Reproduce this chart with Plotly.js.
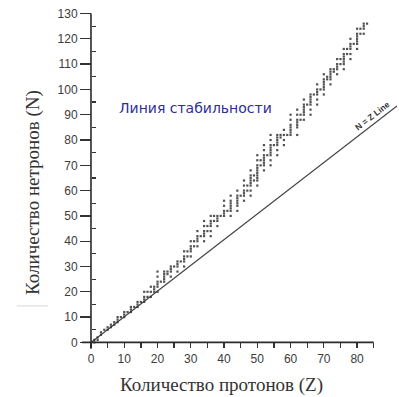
<!DOCTYPE html>
<html><head><meta charset="utf-8">
<script src="https://cdn.plot.ly/plotly-3.0.1.min.js"></script>
<style>html,body{margin:0;padding:0;background:#fff}#chart{width:399px;height:397px}</style>
</head><body><div id="chart"></div>
<script>
// Stable nuclides: proton number Z and the neutron numbers N of its stable isotopes
const elementZ = [1,2,3,4,5,6,7,8,9,10,11,12,13,14,15,16,17,18,19,20,21,22,23,24,25,26,27,28,29,30,
  31,32,33,34,35,36,37,38,39,40,41,42,44,45,46,47,48,49,50,51,52,53,54,55,56,57,58,59,60,
  62,63,64,65,66,67,68,69,70,71,72,73,74,75,76,77,78,79,80,81,82,83];
const stableN = [[0,1],[1,2],[3,4],[5],[5,6],[6,7],[7,8],[8,9,10],[10],[10,11,12],[12],[12,13,14],[14],
  [14,15,16],[16],[16,17,18,20],[18,20],[18,20,22],[20,21,22],[20,22,23,24,26,28],[24],[24,25,26,27,28],
  [27,28],[26,28,29,30],[30],[28,30,31,32],[32],[30,32,33,34,36],[34,36],[34,36,37,38,40],[38,40],
  [38,40,41,42,44],[42],[40,42,43,44,46,48],[44,46],[42,44,46,47,48,50],[48,50],[46,48,49,50],[50],
  [50,51,52,54,56],[52],[50,52,53,54,55,56,58],[52,54,55,56,57,58,60],[58],[56,58,59,60,62,64],[60,62],
  [58,60,62,63,64,65,66,68],[64,66],[62,64,65,66,67,68,69,70,72,74],[70,72],[68,70,71,72,73,74,76,78],
  [74],[70,72,74,75,76,77,78,80,82],[78],[74,76,78,79,80,81,82],[81,82],[78,80,82,84],[82],
  [82,83,84,85,86,88,90],[82,85,86,87,88,90,92],[88,90],[88,90,91,92,93,94,96],[94],
  [90,92,94,95,96,97,98],[98],[94,96,98,99,100,102],[100],[98,100,101,102,103,104,106],[104,105],
  [102,104,105,106,107,108],[107,108],[106,108,109,110,112],[110,112],[108,110,111,112,113,114,116],
  [114,116],[112,114,116,117,118,120],[118],[116,118,119,120,121,122,124],[122,124],[122,124,125,126],[126]];
const lineZ = [0, 92];
const lineN = [0, 93.5];
const xTickVals = [0,5,10,15,20,25,30,35,40,45,50,55,60,65,70,75,80,85];
const xTickText = ['0','','10','','20','','30','','40','','50','','60','','70','','80',''];
const yTickVals = [0,10,20,30,40,50,60,70,80,90,100,110,120,130];
const yMinorVals = [5,15,25,35,45,55,65,75,85,95,105,115,125];

const pz = [], pn = [];
elementZ.forEach((z, i) => stableN[i].forEach(n => { pz.push(z); pn.push(n); }));

const xr = [-3, 92], yr = [-3, 131];
const data = [
  {x: lineZ, y: lineN, type: 'scatter', mode: 'lines', line: {color: '#444', width: 1.2}, hoverinfo: 'skip'},
  {x: pz, y: pn, type: 'scatter', mode: 'markers', cliponaxis: false,
   marker: {symbol: 'square', size: 2.2, color: '#333', opacity: 0.85, line: {width: 0}}}
];
const tickFont = {family: 'Liberation Sans, Arial, sans-serif', size: 12, color: '#3c3c3c'};
const layout = {
  width: 399, height: 397,
  margin: {l: 81, r: 2, t: 11, b: 47},
  paper_bgcolor: '#fff', plot_bgcolor: '#fff',
  showlegend: false,
  xaxis: {range: xr, anchor: 'free', position: (0 - yr[0]) / (yr[1] - yr[0]),
    showgrid: false, zeroline: false, showline: false,
    tickmode: 'array', tickvals: xTickVals, ticktext: xTickText,
    ticks: 'outside', ticklen: 5, tickwidth: 1.3, tickcolor: '#333', tickfont: tickFont},
  yaxis: {range: yr, anchor: 'free', position: (0 - xr[0]) / (xr[1] - xr[0]),
    showgrid: false, zeroline: false, showline: false,
    tickmode: 'array', tickvals: yTickVals,
    ticks: 'outside', ticklen: 11, tickwidth: 1.3, tickcolor: '#333', tickfont: tickFont,
    minor: {tickmode: 'array', tickvals: yMinorVals, ticks: 'inside', ticklen: 4, tickwidth: 1.2, tickcolor: '#333'}},
  shapes: [
    {type: 'line', xref: 'x', yref: 'y', x0: -2.7, x1: 85, y0: 0, y1: 0, line: {color: '#2a2a2a', width: 1.6}},
    {type: 'line', xref: 'x', yref: 'y', x0: 0, x1: 0, y0: -2.5, y1: 130, line: {color: '#2a2a2a', width: 1.6}},
    {type: 'line', xref: 'paper', yref: 'paper', x0: -0.203, x1: -0.104, y0: 0.13, y1: 0.13, line: {color: '#d6d6d6', width: 1}}
  ],
  annotations: [
    {xref: 'paper', yref: 'paper', x: 0.446, y: -0.103, xanchor: 'center', yanchor: 'middle', showarrow: false,
     text: 'Количество протонов (Z)', font: {family: 'Liberation Serif, Times New Roman, serif', size: 19, color: '#333'}},
    {xref: 'paper', yref: 'paper', x: -0.152, y: 0.466, xanchor: 'center', yanchor: 'middle', showarrow: false, textangle: -90,
     text: 'Количество нетронов (N)', font: {family: 'Liberation Serif, Times New Roman, serif', size: 19, color: '#333'}},
    {xref: 'x', yref: 'y', x: 31.3, y: 92.5, showarrow: false,
     text: 'Линия стабильности', font: {family: 'DejaVu Sans, sans-serif', size: 14, color: '#2e2e96'}},
    {xref: 'x', yref: 'y', x: 84.5, y: 89.5, showarrow: false, textangle: -38,
     text: '<b>N = Z Line</b>', font: {family: 'Liberation Sans, Arial, sans-serif', size: 8.5, color: '#333'}}
  ]
};
Plotly.newPlot('chart', data, layout, {displayModeBar: false, staticPlot: true});
</script></body></html>
